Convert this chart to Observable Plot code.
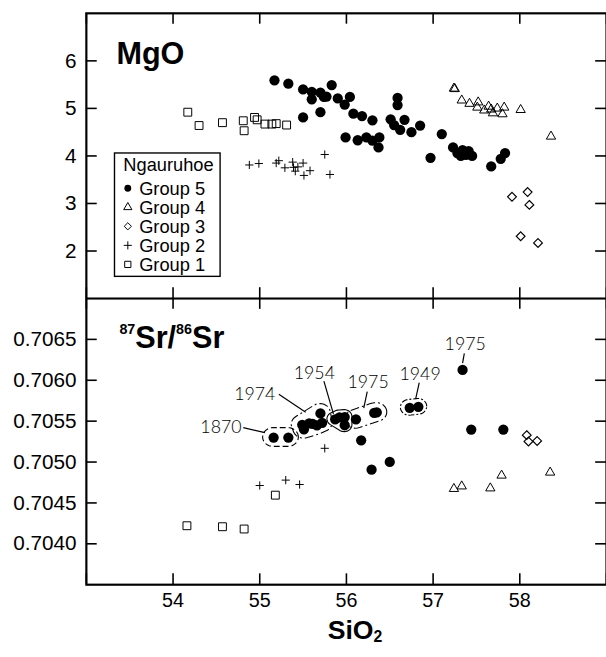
<!DOCTYPE html>
<html><head><meta charset="utf-8">
<script src="https://cdn.jsdelivr.net/npm/d3@7"></script>
<script src="https://cdn.jsdelivr.net/npm/@observablehq/plot@0.6"></script>
<style>
html,body{margin:0;padding:0;background:#fff;overflow:hidden}
#wrap{position:relative;width:606px;height:657px;overflow:hidden;background:#fff}
#wrap svg{display:block}
</style></head><body><div id="wrap"></div>
<script>
// ---------- tick values / labels ----------
const SIO2_TICKS = [54, 55, 56, 57, 58];
const MGO_TICKS = [2, 3, 4, 5, 6];
const SR_TICKS = [0.7040, 0.7045, 0.7050, 0.7055, 0.7060, 0.7065];
const GROUPS = ["Group 5", "Group 4", "Group 3", "Group 2", "Group 1"];
const LEGEND_TITLE = "Ngauruhoe";

// ---------- MgO panel ----------
const g5_si_mgo = [55.17,55.33,55.50,55.60,55.60,55.70,55.74,55.83,55.77,55.90,55.98,56.04,55.50,55.70,56.08,56.18,56.30,56.59,56.59,56.51,56.55,56.62,56.67,56.75,56.85,55.99,56.13,56.23,56.30,56.38,56.37,56.97,57.10,57.23,57.34,57.32,57.38,57.45,57.28,57.41,57.67,57.78,57.83];
const g5_mgo    = [5.59,5.52,5.40,5.35,5.19,5.33,5.24,5.49,5.25,5.21,5.08,5.24,4.81,4.92,4.89,4.84,4.75,5.22,5.07,4.77,4.65,4.55,4.76,4.50,4.64,4.39,4.33,4.39,4.32,4.39,4.18,3.96,4.46,4.18,4.12,4.00,4.02,4.00,4.06,4.10,3.78,3.94,4.06];
const g4_si_mgo = [57.24,57.25,57.33,57.42,57.52,57.51,57.59,57.64,57.67,57.69,57.74,57.80,57.82,58.01,58.36];
const g4_mgo    = [5.42,5.41,5.17,5.10,5.13,5.02,4.96,5.04,4.98,4.90,5.00,4.88,5.02,4.97,4.41];
const g3_si_mgo = [57.91,58.09,58.11,58.01,58.21];
const g3_mgo    = [3.14,3.24,2.97,2.31,2.17];
const g2_si_mgo = [54.88,54.99,55.19,55.22,55.29,55.38,55.39,55.44,55.50,55.41,55.51,55.58,55.75,55.81];
const g2_mgo    = [3.81,3.84,3.85,3.90,3.75,3.87,3.76,3.77,3.85,3.68,3.59,3.69,4.03,3.61];
const g1_si_mgo = [54.17,54.30,54.57,54.81,54.82,54.94,54.97,55.06,55.14,55.19,55.31];
const g1_mgo    = [4.92,4.64,4.70,4.74,4.53,4.81,4.76,4.67,4.67,4.68,4.65];

// ---------- 87Sr/86Sr panel ----------
const g5_si_sr = [55.16,55.33, 55.49,55.51,55.57,55.61,55.70,55.72,55.66, 55.87,55.92,55.98,55.98, 56.11,56.32,56.35, 56.73,56.83, 57.34, 56.17,56.29,56.50,57.44,57.81];
const g5_sr    = [0.70530,0.70530, 0.705455,0.705401,0.705473,0.705467,0.705594,0.705479,0.705449, 0.705522,0.705546,0.70555,0.70545, 0.705522,0.70560,0.705606, 0.705663,0.705675, 0.706126, 0.705265,0.704906,0.705002,0.705397,0.705397];
const g5_group = ["1870","1870","1974","1974","1974","1974","1974","1974","1974","1954","1954","1954","1954","1975a","1975a","1975a","1949","1949","1975b","","","","",""];
const g4_si_sr = [57.24,57.33,57.66,57.79,58.35];
const g4_sr    = [0.704673,0.704704,0.70468,0.704836,0.704873];
const g3_si_sr = [58.08,58.10,58.20];
const g3_sr    = [0.705329,0.705252,0.705258];
const g2_si_sr = [55.00,55.30,55.46,55.75];
const g2_sr    = [0.704713,0.704779,0.704725,0.705168];
const g1_si_sr = [54.16,54.57,54.82,55.18];
const g1_sr    = [0.704221,0.704209,0.704181,0.704595];

// eruption-year annotations
const ann_text   = ["1870","1974","1954","1975","1949","1975"];
const ann_anchor = ["end","end","middle","middle","middle","middle"];
const ann_si     = [54.79,55.18,55.63,56.25,56.85,57.37];
const ann_sr     = [0.70542,0.70583,0.70609,0.70597,0.70607,0.70644];
const lead_si1   = [54.81,55.22,55.74,56.24,56.84,57.36];
const lead_sr1   = [0.70542,0.70583,0.70599,0.70586,0.70597,0.70633];
const lead_si2   = [55.06,55.53,55.85,56.20,56.80,57.34];
const lead_sr2   = [0.70536,0.70561,0.70559,0.70566,0.70578,0.70621];
const outlines   = ["1870","1974","1954","1975a","1949"];
const outlineDash= ["6,3","9,3,2,3",null,"9,3,2,3","6,2,2,2"];

// ---------- helpers ----------
const rows = (xs, ys) => xs.map((x, i) => ({x, y: ys[i]}));
const FONT = "'Liberation Sans', Arial, Helvetica, sans-serif";
const YEAR_FONT = "Lato, 'DejaVu Sans', sans-serif";
const W = 614, L = 87, PW = W - L, TL = 11;

function symbolMarks(data) {
  return [
    Plot.dot(data.g1, {x: "x", y: "y", symbol: "square", r: 4.5, stroke: "black", strokeWidth: 1, fill: "none"}),
    Plot.dot(data.g2, {x: "x", y: "y", symbol: "plus", r: 2.8, stroke: "black", strokeWidth: 1, fill: "none"}),
    Plot.dot(data.g3, {x: "x", y: "y", symbol: "diamond2", r: 4.0, stroke: "black", strokeWidth: 1.2, fill: "none"}),
    Plot.dot(data.g4, {x: "x", y: "y", symbol: "triangle", r: 3.5, stroke: "black", strokeWidth: 1, fill: "none"}),
    Plot.dot(data.g5, {x: "x", y: "y", r: 5.2, fill: "black", stroke: "none"})
  ];
}
function frameMarks(yTicks, ph) {
  const allX = [53, ...SIO2_TICKS, 59];
  return [
    Plot.tickX(allX, {x: d => d, insetBottom: ph - TL, stroke: "black", strokeWidth: 1.6}),
    Plot.tickX(allX, {x: d => d, insetTop: ph - TL, stroke: "black", strokeWidth: 1.6}),
    Plot.tickY(yTicks, {y: d => d, insetRight: PW - TL, stroke: "black", strokeWidth: 1.6}),
    Plot.tickY(yTicks, {y: d => d, insetLeft: PW - TL, stroke: "black", strokeWidth: 1.6}),
    Plot.frame({stroke: "black", strokeWidth: 2.2})
  ];
}
function addText(sel, x, y, size, weight, text) {
  return sel.append("text").attr("x", x).attr("y", y).attr("text-anchor", "start")
    .attr("font-family", FONT).attr("font-weight", weight).attr("font-size", size)
    .attr("fill", "black").text(text);
}

const wrap = document.getElementById("wrap");

// ---------- top panel ----------
const topH = 302, topMT = 13;
const topData = {
  g1: rows(g1_si_mgo, g1_mgo), g2: rows(g2_si_mgo, g2_mgo), g3: rows(g3_si_mgo, g3_mgo),
  g4: rows(g4_si_mgo, g4_mgo), g5: rows(g5_si_mgo, g5_mgo)
};
const topPlot = Plot.plot({
  width: W, height: topH, marginLeft: L, marginRight: 0, marginTop: topMT, marginBottom: 0,
  style: {fontFamily: FONT, fontSize: "21px", color: "black", background: "white"},
  x: {domain: [53, 59], axis: null},
  y: {domain: [1, 7], axis: null},
  marks: [
    ...frameMarks(MGO_TICKS, topH - topMT),
    Plot.axisY({ticks: MGO_TICKS, tickFormat: d => String(d), tickSize: 0, tickPadding: 10, fontSize: 21, anchor: "left", label: null}),
    ...symbolMarks(topData)
  ]
});
wrap.appendChild(topPlot);

// ---------- bottom panel ----------
const botH = 355, botMB = 65;
const annRows = ann_text.map((t, i) => ({t, a: ann_anchor[i], x: ann_si[i], y: ann_sr[i],
  x1: lead_si1[i], y1: lead_sr1[i], x2: lead_si2[i], y2: lead_sr2[i]}));
const botData = {
  g1: rows(g1_si_sr, g1_sr), g2: rows(g2_si_sr, g2_sr), g3: rows(g3_si_sr, g3_sr),
  g4: rows(g4_si_sr, g4_sr), g5: rows(g5_si_sr, g5_sr)
};
const botPlot = Plot.plot({
  width: W, height: botH, marginLeft: L, marginRight: 0, marginTop: 0, marginBottom: botMB,
  style: {fontFamily: FONT, fontSize: "21px", color: "black", background: "white"},
  x: {domain: [53, 59], axis: null},
  y: {domain: [0.7035, 0.7070], axis: null},
  marks: [
    ...frameMarks(SR_TICKS, botH - botMB),
    Plot.axisY({ticks: SR_TICKS, tickFormat: d3.format(".4f"), tickSize: 0, tickPadding: 10, fontSize: 21, anchor: "left", label: null}),
    Plot.axisX({ticks: SIO2_TICKS, tickFormat: d => String(d), tickSize: 0, tickPadding: 8, fontSize: 20, anchor: "bottom", label: null}),
    Plot.link(annRows, {x1: "x1", y1: "y1", x2: "x2", y2: "y2", stroke: "black", strokeWidth: 1.2}),
    Plot.text(annRows.filter(d => d.a === "end"), {x: "x", y: "y", text: "t", textAnchor: "end", fontSize: 18, fontFamily: YEAR_FONT, fontWeight: 300, fill: "black"}),
    Plot.text(annRows.filter(d => d.a === "middle"), {x: "x", y: "y", text: "t", textAnchor: "middle", fontSize: 18, fontFamily: YEAR_FONT, fontWeight: 300, fill: "black"}),
    ...symbolMarks(botData)
  ]
});
wrap.appendChild(botPlot);

// ---------- cluster outlines (drawn through the bottom plot's scales) ----------
{
  const sx = botPlot.scale("x"), sy = botPlot.scale("y");
  const X = d3.scaleLinear(sx.domain, sx.range), Y = d3.scaleLinear(sy.domain, sy.range);
  const svg = d3.select(botPlot);
  outlines.forEach((name, k) => {
    const pts = [];
    const R = name === "1954" ? 7 : (name === "1949" ? 8 : 9.5);
    g5_group.forEach((gname, i) => {
      if (gname !== name) return;
      const cx = X(g5_si_sr[i]), cy = Y(g5_sr[i]);
      for (let a = 0; a < 32; a++) {
        const t = a / 32 * 2 * Math.PI;
        pts.push([cx + R * 1.12 * Math.cos(t), cy + R * Math.sin(t)]);
      }
    });
    const hull = d3.polygonHull(pts);
    if (!hull) return;
    svg.append("path")
      .attr("d", "M" + hull.map(p => p.join(",")).join("L") + "Z")
      .attr("fill", "none").attr("stroke", "black").attr("stroke-width", 1.1)
      .attr("stroke-dasharray", outlineDash[k]);
  });
  // panel title with superscripts
  const t = addText(svg, 121, 51, 31, "bold", null);
  t.append("tspan").attr("font-size", 14.5).attr("dy", -15).text("87");
  t.append("tspan").attr("dy", 15).text("Sr/");
  t.append("tspan").attr("font-size", 14.5).attr("dy", -15).text("86");
  t.append("tspan").attr("dy", 15).text("Sr");
  // x title with subscript
  const xt = addText(svg, 332, 346, 27, "bold", null);
  xt.append("tspan").text("SiO");
  xt.append("tspan").attr("font-size", 16).attr("dy", 3).text("2");
}

// ---------- top panel title + legend ----------
{
  const svg = d3.select(topPlot);
  addText(svg, 118, 65, 31, "bold", "MgO");
  const lg = svg.append("g");
  lg.append("rect").attr("x", 116).attr("y", 155).attr("width", 107).attr("height", 125)
    .attr("fill", "white").attr("stroke", "black").attr("stroke-width", 1.4);
  addText(lg, 125, 173, 18.5, "normal", LEGEND_TITLE);
  const syms = [
    {s: d3.symbolCircle, size: 38, fill: "black", stroke: "none"},
    {s: d3.symbolTriangle, size: 30, fill: "none", stroke: "black"},
    {s: d3.symbolDiamond2, size: 34, fill: "none", stroke: "black"},
    {s: d3.symbolPlus, size: 24, fill: "none", stroke: "black"},
    {s: d3.symbolSquare, size: 40, fill: "none", stroke: "black"}
  ];
  GROUPS.forEach((name, i) => {
    const cy = 190.7 + i * 19.3;
    lg.append("path").attr("transform", `translate(129.5,${cy})`)
      .attr("d", d3.symbol(syms[i].s, syms[i].size)())
      .attr("fill", syms[i].fill).attr("stroke", syms[i].stroke).attr("stroke-width", 1);
    addText(lg, 141, cy + 6.5, 18.5, "normal", name);
  });
}
</script></body></html>
